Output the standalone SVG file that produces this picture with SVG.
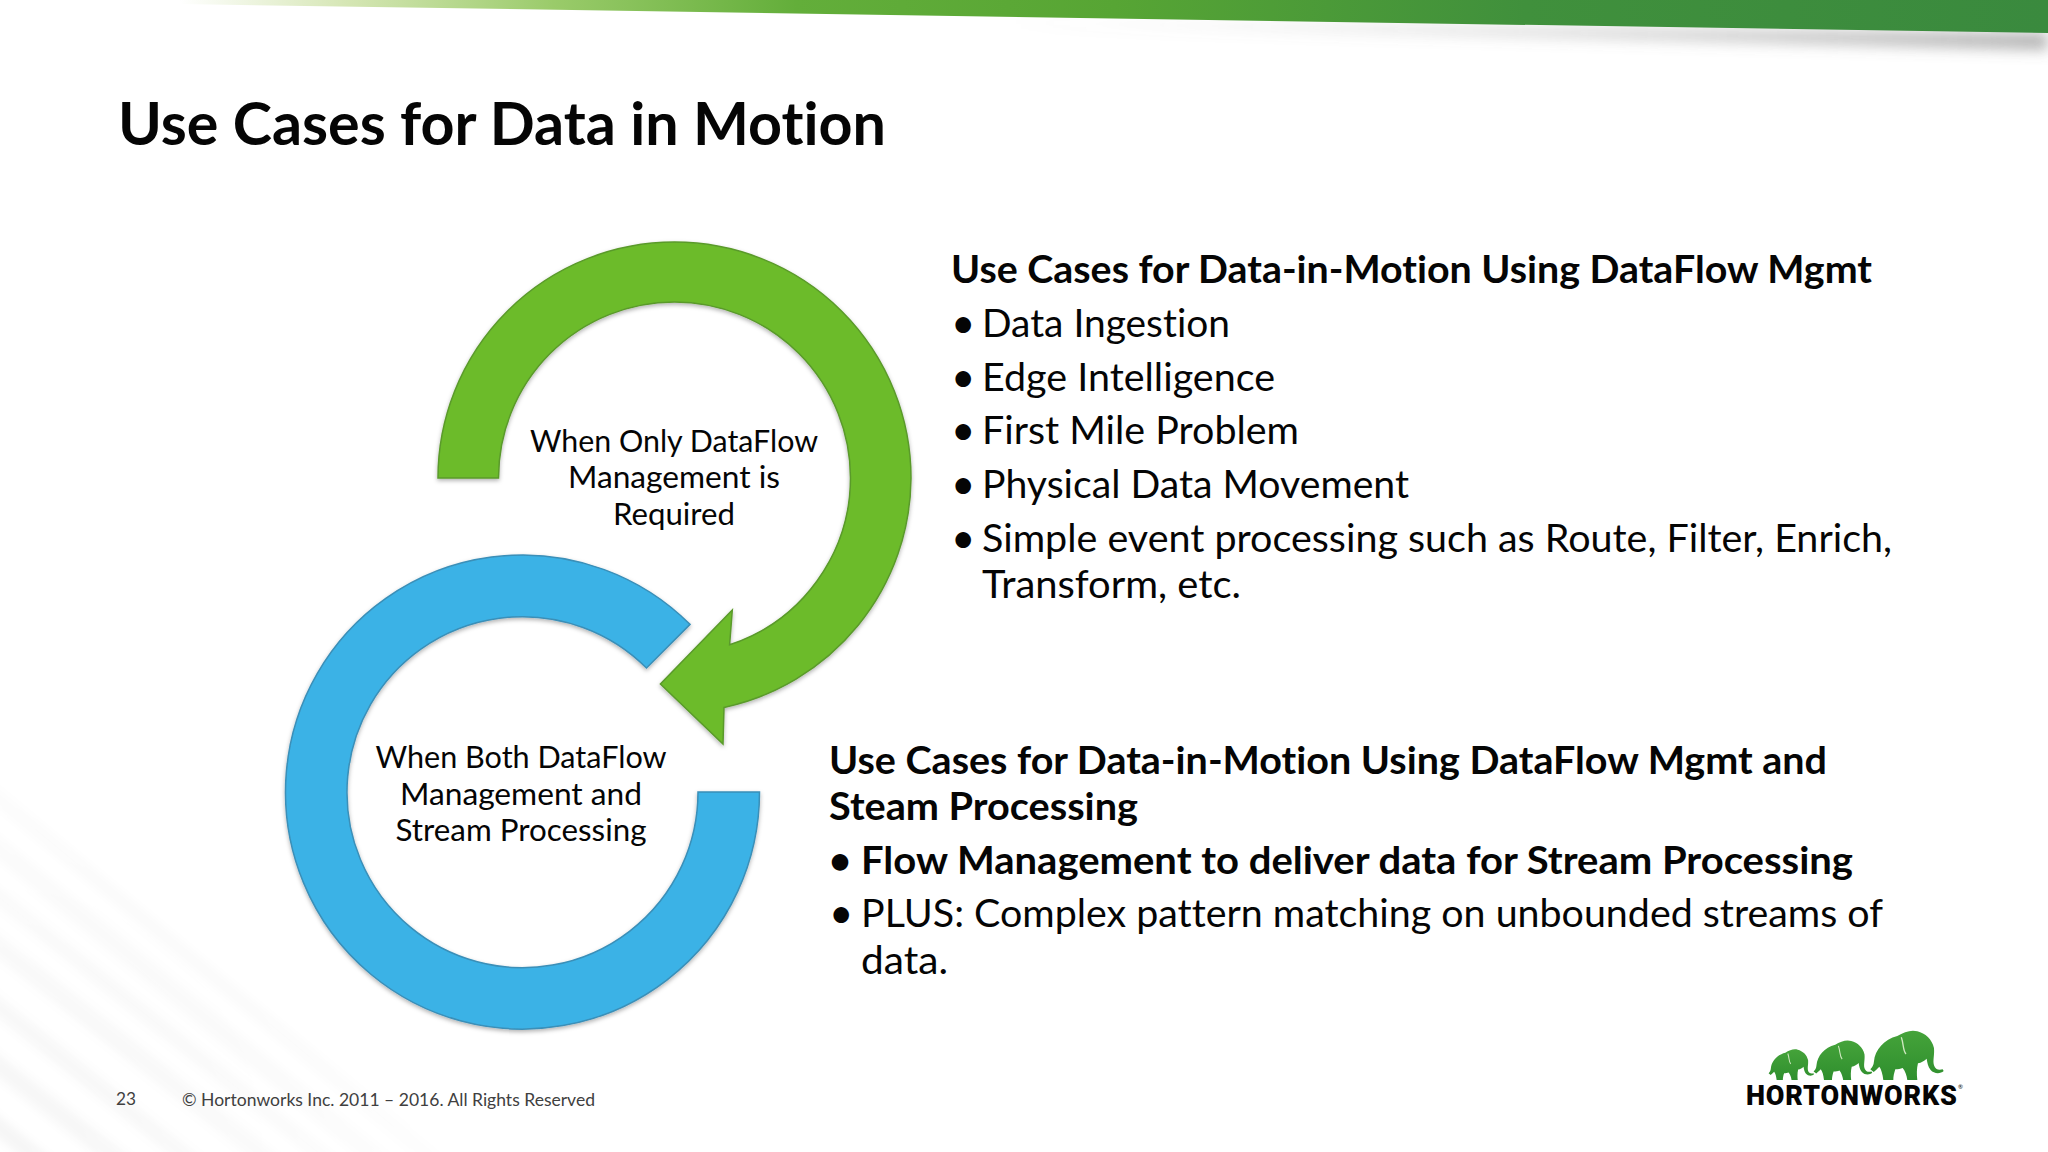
<svg xmlns="http://www.w3.org/2000/svg" width="2048" height="1152" viewBox="0 0 2048 1152">
<style>
text{font-family:Lato,"Liberation Sans",sans-serif;fill:#050505;font-variant-ligatures:none}
.b{font-size:38px}
.bb{font-size:38px;font-weight:700}
.u{font-size:42px}
.l{font-size:31px;text-anchor:middle}
.f{font-size:18px;fill:#404040}
.ring{stroke-width:1.5;filter:url(#sh)}
</style>
<defs>
<linearGradient id="bar" x1="180" y1="0" x2="2048" y2="0" gradientUnits="userSpaceOnUse">
<stop offset="0" stop-color="#fff"/><stop offset=".09" stop-color="#d5e6b4"/><stop offset=".2" stop-color="#9acb6a"/><stop offset=".33" stop-color="#63ae3a"/><stop offset=".5" stop-color="#57a534"/><stop offset=".72" stop-color="#40903c"/><stop offset="1" stop-color="#3a8a3e"/>
</linearGradient>
<linearGradient id="barsh" x1="1000" y1="0" x2="2048" y2="0" gradientUnits="userSpaceOnUse">
<stop offset="0" stop-color="#888" stop-opacity="0"/><stop offset="1" stop-color="#666" stop-opacity=".5"/>
</linearGradient>
<linearGradient id="elg" x1="0" y1="0" x2="0" y2="1"><stop offset="0" stop-color="#45a33a"/><stop offset="1" stop-color="#2f8f2e"/></linearGradient>
<filter id="sh" x="-5%" y="-5%" width="110%" height="110%"><feDropShadow dx="0" dy="2" stdDeviation="2" flood-color="#000" flood-opacity=".3"/></filter>
<filter id="bl" x="-5%" y="-200%" width="110%" height="500%"><feGaussianBlur stdDeviation="7"/></filter>
<filter id="bl2"><feGaussianBlur stdDeviation="4"/></filter>
<radialGradient id="fade" cx="0" cy="1152" r="560" gradientUnits="userSpaceOnUse"><stop offset="0" stop-color="#fff"/><stop offset=".5" stop-color="#777"/><stop offset="1" stop-color="#000"/></radialGradient>
<mask id="m" maskUnits="userSpaceOnUse" x="0" y="500" width="800" height="652"><rect x="0" y="500" width="800" height="652" fill="url(#fade)"/></mask>
<path id="el" d="M550 240C548 222 544 208 538 200C532 206 526 212 521 216L511 208C517 203 521 196 522 184C525 150 552 118 592 108C612 96 634 88 652 94C676 100 696 118 702 144C704 166 698 180 702 196C706 208 716 212 728 208L731 213C722 222 702 222 692 210C684 200 682 188 680 176C674 182 664 188 654 190C650 206 650 224 652 240L622 240C620 226 616 214 608 204C602 206 594 208 586 208C582 220 580 230 580 240Z"/>
</defs>
<rect width="2048" height="1152" fill="#fff"/>
<g id="background" mask="url(#m)" filter="url(#bl2)" stroke="#000" stroke-opacity=".035" fill="none">
<path d="M-60 800L420 1194" stroke-width="20"/>
<path d="M-60 850L370 1194" stroke-width="16"/>
<path d="M-60 900L320 1200" stroke-width="20"/>
<path d="M-60 960L240 1200" stroke-width="18"/>
<path d="M-60 1020L170 1200" stroke-width="20"/>
<path d="M-60 1080L90 1200" stroke-width="18"/>
<path d="M-60 750L470 1190" stroke-width="16"/>
</g>
<path id="barshadow" d="M1000 20L2048 33V50L1000 24Z" fill="url(#barsh)" filter="url(#bl)"/>
<path id="bar-top" d="M180 0H2048V33L180 4Z" fill="url(#bar)"/>
<text id="title" x="118" y="145" font-size="60" font-weight="700" textLength="768" lengthAdjust="spacingAndGlyphs">Use Cases for Data in Motion</text>

<g id="node-green">
<path class="ring" fill="#6cbb2c" stroke="#5a9a2a" d="M438 478A236.5 236 0 0 1 911 478A236.5 236 0 0 1 724 707.4L723 744L660.4 684L732.3 610L729.6 644.8A176 176 0 0 0 850.5 478A176 176 0 0 0 498.5 478Z"/>
<text class="l" x="674" y="452" textLength="288" lengthAdjust="spacingAndGlyphs">When Only DataFlow</text>
<text class="l" x="674" y="488" textLength="212" lengthAdjust="spacingAndGlyphs">Management is</text>
<text class="l" x="674" y="525" textLength="122" lengthAdjust="spacingAndGlyphs">Required</text>
</g>
<g id="node-blue">
<path class="ring" fill="#3bb2e6" stroke="#3a8fb8" d="M759.5 792A237 237 0 1 1 690 624.4L646.5 668A175.5 175.5 0 1 0 698 792Z"/>
<text class="l" x="521" y="768" textLength="291" lengthAdjust="spacingAndGlyphs">When Both DataFlow</text>
<text class="l" x="521" y="805" textLength="242" lengthAdjust="spacingAndGlyphs">Management and</text>
<text class="l" x="521" y="841" textLength="251" lengthAdjust="spacingAndGlyphs">Stream Processing</text>
</g>
<g id="connectors"/>
<g id="text-top">
<text class="bb" x="951" y="283" textLength="921" lengthAdjust="spacingAndGlyphs">Use Cases for Data-in-Motion Using DataFlow Mgmt</text>
<text class="u" x="951" y="338">•</text><text class="b" x="982" y="337" textLength="248" lengthAdjust="spacingAndGlyphs">Data Ingestion</text>
<text class="u" x="951" y="392">•</text><text class="b" x="982" y="391" textLength="293" lengthAdjust="spacingAndGlyphs">Edge Intelligence</text>
<text class="u" x="951" y="445">•</text><text class="b" x="982" y="444" textLength="317" lengthAdjust="spacingAndGlyphs">First Mile Problem</text>
<text class="u" x="951" y="499">•</text><text class="b" x="982" y="498" textLength="427" lengthAdjust="spacingAndGlyphs">Physical Data Movement</text>
<text class="u" x="951" y="553">•</text><text class="b" x="982" y="552" textLength="910" lengthAdjust="spacingAndGlyphs">Simple event processing such as Route, Filter, Enrich,</text>
<text class="b" x="982" y="598" textLength="259" lengthAdjust="spacingAndGlyphs">Transform, etc.</text>
</g>
<g id="text-bottom">
<text class="bb" x="829" y="774" textLength="998" lengthAdjust="spacingAndGlyphs">Use Cases for Data-in-Motion Using DataFlow Mgmt and</text>
<text class="bb" x="829" y="820" textLength="309" lengthAdjust="spacingAndGlyphs">Steam Processing</text>
<text class="bb" x="829" y="874">•</text><text class="bb" x="861" y="874" textLength="992" lengthAdjust="spacingAndGlyphs">Flow Management to deliver data for Stream Processing</text>
<text class="u" x="829" y="928">•</text><text class="b" x="861" y="927" textLength="1022" lengthAdjust="spacingAndGlyphs">PLUS: Complex pattern matching on unbounded streams of</text>
<text class="b" x="861" y="974" textLength="87" lengthAdjust="spacingAndGlyphs">data.</text>
</g>
<g id="footer">
<text class="f" x="116" y="1105" textLength="20" lengthAdjust="spacingAndGlyphs">23</text>
<text class="f" x="182" y="1106" textLength="413" lengthAdjust="spacingAndGlyphs">© Hortonworks Inc. 2011 – 2016. All Rights Reserved</text>
</g>
<g id="logo">
<g transform="translate(1700 1000) scale(.3333)" fill="url(#elg)">
<use href="#el"/>
<path d="M604 112C612 135 608 150 618 162" fill="none" stroke="#cfe8c0" stroke-width="4"/>
<g transform="translate(-68 48) scale(.8)"><use href="#el"/><path d="M604 112C612 135 608 150 618 162" fill="none" stroke="#cfe8c0" stroke-width="4"/></g>
<g transform="translate(-111 91) scale(.62)"><use href="#el"/><path d="M604 112C612 135 608 150 618 162" fill="none" stroke="#cfe8c0" stroke-width="5"/></g>
</g>
<text x="1746" y="1105" font-size="27" font-weight="900" textLength="211" lengthAdjust="spacing" style="font-family:'Roboto','Liberation Sans',sans-serif">HORTONWORKS</text>
<text x="1958" y="1089" font-size="6">®</text>
</g>
</svg>
